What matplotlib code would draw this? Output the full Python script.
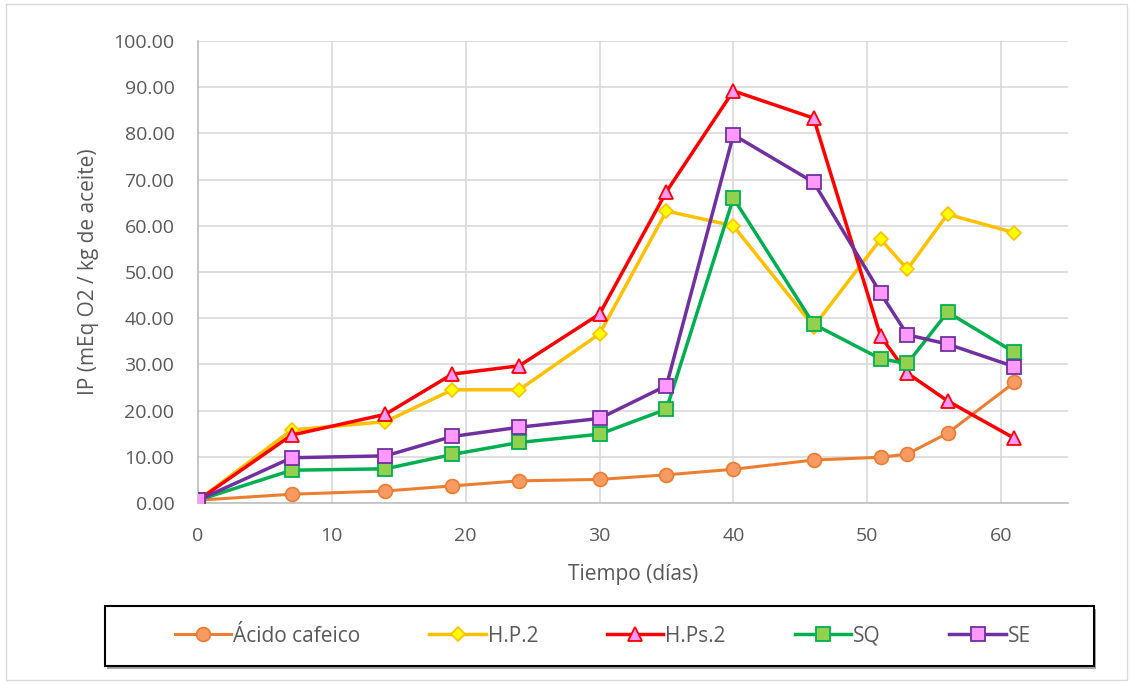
import matplotlib
matplotlib.use("Agg")
import matplotlib.pyplot as plt
from matplotlib.patches import Rectangle
from matplotlib.ticker import FormatStrFormatter, MultipleLocator

plt.rcParams['font.family'] = ['Open Sans', 'DejaVu Sans']

# days
dias = [0, 7, 14, 19, 24, 30, 35, 40, 46, 51, 53, 56, 61]

# IP values per sample
acido_cafeico = [0.6, 1.9, 2.6, 3.7, 4.8, 5.1, 6.1, 7.3, 9.3, 9.9, 10.6, 15.1, 26.1]
hp2 = [0.6, 15.8, 17.6, 24.5, 24.5, 36.6, 63.2, 60.0, 38.2, 57.1, 50.6, 62.5, 58.5]
hps2 = [0.6, 14.7, 19.2, 27.9, 29.7, 40.9, 67.4, 89.2, 83.3, 36.1, 28.1, 22.1, 14.0]
sq = [0.6, 7.1, 7.4, 10.5, 13.1, 14.9, 20.3, 66.0, 38.7, 31.2, 30.2, 41.3, 32.6]
se = [0.6, 9.8, 10.2, 14.4, 16.4, 18.3, 25.4, 79.7, 69.4, 45.4, 36.4, 34.4, 29.5]

labels = ['Ácido cafeico', 'H.P.2', 'H.Ps.2', 'SQ', 'SE']

txt = '#595959'
W, H = 1130, 684
fig = plt.figure(figsize=(W / 100, H / 100), dpi=100)
ax = fig.add_axes([198 / W, 1 - 503 / H, (1068 - 198) / W, (503 - 41) / H])

ax.plot(dias, acido_cafeico, color='#ED7D31', lw=2.2, marker='o', ms=10,
        mfc='#F79B62', mec='#ED7D31', mew=1.2, label=labels[0], zorder=3)
ax.plot(dias, hp2, color='#FFC000', lw=2.5, marker='D', ms=7.5,
        mfc='#FFFF00', mec='#FFC000', mew=1.2, label=labels[1], zorder=4)
ax.plot(dias, hps2, color='#FF0000', lw=2.5, marker='^', ms=10,
        mfc='#FF99FF', mec='#FF0000', mew=1.3, label=labels[2], zorder=5)
ax.plot(dias, sq, color='#00B050', lw=2.5, marker='s', ms=9.5,
        mfc='#92D050', mec='#00B050', mew=1.3, label=labels[3], zorder=6)
ax.plot(dias, se, color='#7030A0', lw=2.5, marker='s', ms=9.5,
        mfc='#FF99FF', mec='#7030A0', mew=1.3, label=labels[4], zorder=7)

ax.set_xlim(0, 65)
ax.set_ylim(0, 100)
ax.xaxis.set_major_locator(MultipleLocator(10))
ax.yaxis.set_major_locator(MultipleLocator(10))
ax.yaxis.set_major_formatter(FormatStrFormatter('%.2f'))
ax.grid(True, color='#D9D9D9', lw=1.2, zorder=0)
ax.set_axisbelow(True)
for s in ['top', 'right']:
    ax.spines[s].set_visible(False)
for s in ['left', 'bottom']:
    ax.spines[s].set_color('#BFBFBF')
    ax.spines[s].set_linewidth(1.2)
ax.tick_params(length=0, labelsize=14, labelcolor=txt)
ax.tick_params(axis='y', pad=17)
ax.tick_params(axis='x', pad=17)
ax.set_xlabel('Tiempo (días)', fontsize=15, color=txt, labelpad=14)
ax.set_ylabel('IP (mEq O2 / kg de aceite)', fontsize=15, color=txt, labelpad=10)

# outer chart border
fig.patches.append(Rectangle((6 / W, 4 / H), 1121 / W, 676 / H, transform=fig.transFigure,
                             fill=False, ec='#D9D9D9', lw=1))
# legend box with shadow
fig.patches.append(Rectangle((107 / W, (H - 669) / H), 989 / W, 60 / H, transform=fig.transFigure,
                             fill=True, fc='#A6A6A6', ec='none'))
fig.patches.append(Rectangle((105 / W, (H - 666) / H), 989 / W, 60 / H, transform=fig.transFigure,
                             fill=True, fc='white', ec='black', lw=1.5))
h, l = ax.get_legend_handles_labels()
fig.legend(h, l, ncol=5, frameon=False, loc='center',
           bbox_to_anchor=(603 / W, (H - 636) / H), fontsize=15,
           handlelength=2.7, handletextpad=0.1, columnspacing=3.3,
           labelcolor=txt)

fig.savefig('out.png', dpi=100)
